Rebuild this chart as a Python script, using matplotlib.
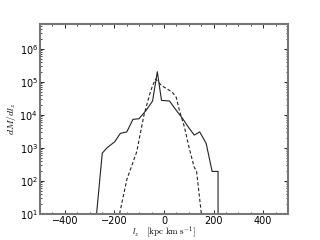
import numpy as np
import matplotlib
matplotlib.use("Agg")
import matplotlib.pyplot as plt
from matplotlib.ticker import MultipleLocator

# distribution des moments angulaires l_z
solid_x = [-273, -249, -229, -199, -176, -150, -125, -101, -72, -46, -27, -10, 22, 48, 75, 100, 122, 144, 170, 194, 218, 240]
solid_y = [8, 680, 1000, 1500, 2700, 3000, 7200, 7500, 13500, 26000, 200000, 27000, 26000, 14000, 7600, 4000, 2400, 3000, 1350, 190, 190, 0]

dash_x = [-179, -150, -110, -81, -57, -46, -34, -10, 10, 33, 49, 62, 82, 102, 122, 131, 152]
dash_y = [10, 107, 750, 9500, 43000, 76000, 120000, 76000, 62000, 48000, 34000, 13500, 4300, 950, 250, 200, 8]

plt.rcParams['mathtext.fontset'] = 'cm'

fig = plt.figure(figsize=(3.2, 2.4), dpi=100)
ax = fig.add_subplot(111)

ax.plot(solid_x, solid_y, color='#222222', linestyle='-', linewidth=0.8)
ax.plot(dash_x, dash_y, color='#222222', linestyle='--', linewidth=0.8, dashes=(3, 2))

ax.set_yscale('log')
ax.set_xlim(-500, 500)
ax.set_ylim(10, 5.6e6)

ax.xaxis.set_major_locator(MultipleLocator(200))
ax.xaxis.set_minor_locator(MultipleLocator(50))
ax.tick_params(which='both', direction='in', top=True, right=True, labelsize=7, pad=1.5)
ax.tick_params(which='major', length=3, width=0.6)
ax.tick_params(which='minor', length=1.5, width=0.5)

for sp in ax.spines.values():
    sp.set_color('#777777')
    sp.set_linewidth(1.5)

ax.set_xlabel(r'$l_z\quad[\mathrm{kpc\ km\ s^{-1}}]$', fontsize=6.5, labelpad=-1)
ax.set_ylabel(r'$dM/dl_z$', fontsize=7, labelpad=1)

fig.subplots_adjust(left=0.125, right=0.9, bottom=0.11, top=0.9)
fig.savefig('out.png', dpi=100)
